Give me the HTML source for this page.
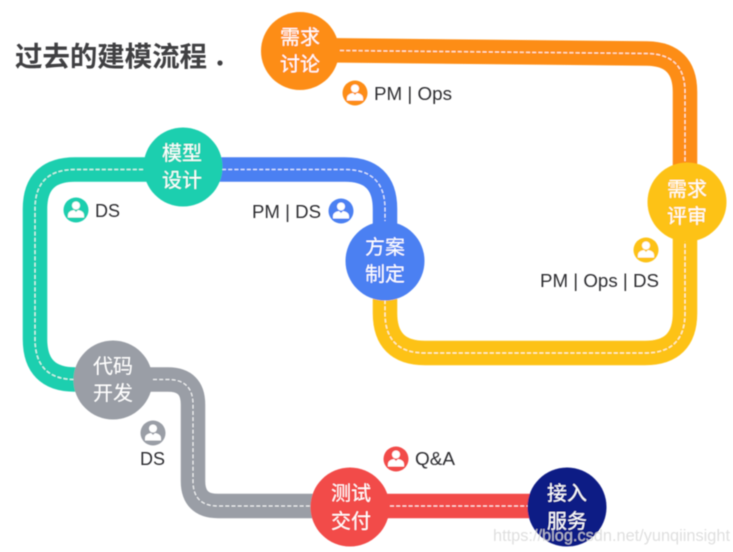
<!DOCTYPE html>
<html lang="zh">
<head>
<meta charset="utf-8">
<style>
html,body{margin:0;padding:0;background:#fff;width:733px;height:552px;overflow:hidden}
svg{display:block}
text{font-family:"Liberation Sans","Noto Sans CJK SC",sans-serif}
.n{fill:#fff;font-size:20px;text-anchor:middle;font-weight:400}
.l{fill:#2f2f33;font-size:18px}
.b{fill:none;stroke-width:24.5}
.d{fill:none;stroke:#fff;stroke-width:1.2;stroke-dasharray:4 2.2;opacity:.85}
</style>
</head>
<body>
<svg width="733" height="552" viewBox="0 0 733 552" xmlns="http://www.w3.org/2000/svg">
<defs>
<filter id="s" x="-5%" y="-5%" width="110%" height="110%"><feGaussianBlur stdDeviation="0.45"/></filter>
<g id="u">
<circle cx="0" cy="-4.500" r="4" fill="#fff"/>
<path d="M-8 7.500v-2.500c0-3 3-4.500 6-5l2 2 2-2c3 .5 6 2 6 5v2.500z" fill="#fff"/>
</g>
</defs>
<rect width="733" height="552" fill="#fff"/>
<g filter="url(#s)">
<text x="15" y="66" font-weight="700" fill="#3f3f42" textLength="192" style="font-size:27.500px">过去的建模流程</text>
<circle cx="220" cy="63" r="2.600" fill="#3f3f42"/>

<!-- gray -->
<path class="b" stroke="#9a9ea6" d="M113 379.500H168Q193 379.500 193 404.500V481Q193 506 218 506H350"/>
<path class="d" d="M153 379.500H168Q193 379.500 193 404.500V481Q193 506 218 506H310"/>
<!-- red -->
<path class="b" stroke="#f24b4a" d="M350 506H567"/>
<path class="d" d="M390 506H528"/>
<!-- teal -->
<path class="b" stroke="#1dcfaf" d="M183 169.500H75Q35 169.500 35 209V339Q35 379.500 75 379.500H113"/>
<path class="d" d="M143 169.500H75Q35 169.500 35 209V339Q35 379.500 75 379.500H74"/>
<!-- blue -->
<path class="b" stroke="#4b80f2" d="M183 169.500H345Q385 169.500 385 209V261"/>
<path class="d" d="M222 169.500H345Q385 169.500 385 209V221"/>
<!-- yellow -->
<path class="b" stroke="#fdc213" d="M385 261V313Q385 353 425 353H645Q685 353 685 313V202"/>
<path class="d" d="M385 300V313Q385 353 425 353H645Q685 353 685 313V240"/>
<!-- orange -->
<path class="b" stroke="#fd8d14" d="M300 50L647 53.500Q685 54 685 92V202"/>
<path class="d" d="M340 50.500L647 53.500Q685 54 685 92V162"/>

<circle cx="300" cy="51" r="39" fill="#fd8d14"/>
<circle cx="687" cy="202" r="39.500" fill="#fdc213"/>
<circle cx="385" cy="261" r="39.500" fill="#4b80f2"/>
<circle cx="183" cy="167" r="39.500" fill="#1dcfaf"/>
<circle cx="113" cy="380" r="39.500" fill="#9a9ea6"/>
<circle cx="350" cy="507" r="39.500" fill="#f24b4a"/>
<circle cx="567" cy="507" r="39.500" fill="#0c1a85"/>

<text class="n" x="300" y="44">需求</text><text class="n" x="300" y="71">讨论</text>
<text class="n" x="687" y="196">需求</text><text class="n" x="687" y="223">评审</text>
<text class="n" x="385" y="254">方案</text><text class="n" x="385" y="281">制定</text>
<text class="n" x="182" y="160">模型</text><text class="n" x="182" y="187">设计</text>
<text class="n" x="113" y="373">代码</text><text class="n" x="113" y="400">开发</text>
<text class="n" x="351" y="500">测试</text><text class="n" x="351" y="528">交付</text>
<text class="n" x="567" y="500">接入</text><text class="n" x="567" y="528">服务</text>

<circle cx="355" cy="93" r="12.500" fill="#fd8d14"/><use href="#u" x="355" y="93"/>
<circle cx="341" cy="211" r="12.500" fill="#4b80f2"/><use href="#u" x="341" y="211"/>
<circle cx="646" cy="250" r="12.500" fill="#fdc213"/><use href="#u" x="646" y="250"/>
<circle cx="76" cy="210" r="12.500" fill="#1dcfaf"/><use href="#u" x="76" y="210"/>
<circle cx="153" cy="433" r="12.500" fill="#9a9ea6"/><use href="#u" x="153" y="433"/>
<circle cx="396" cy="459" r="12.500" fill="#f24b4a"/><use href="#u" x="396" y="459"/>

<text class="l" x="374" y="100" textLength="78" lengthAdjust="spacingAndGlyphs">PM | Ops</text>
<text class="l" x="252" y="218" textLength="69" lengthAdjust="spacingAndGlyphs">PM | DS</text>
<text class="l" x="540" y="287" textLength="119" lengthAdjust="spacingAndGlyphs">PM | Ops | DS</text>
<text class="l" x="95" y="217">DS</text>
<text class="l" x="140" y="465">DS</text>
<text class="l" x="415" y="465" textLength="40" lengthAdjust="spacingAndGlyphs">Q&amp;A</text>
<text x="493" y="541" fill="#d9d9d9" fill-opacity=".85" textLength="237" lengthAdjust="spacingAndGlyphs" style="font-size:17px">https://blog.csdn.net/yunqiinsight</text>
</g>
</svg>
</body>
</html>
